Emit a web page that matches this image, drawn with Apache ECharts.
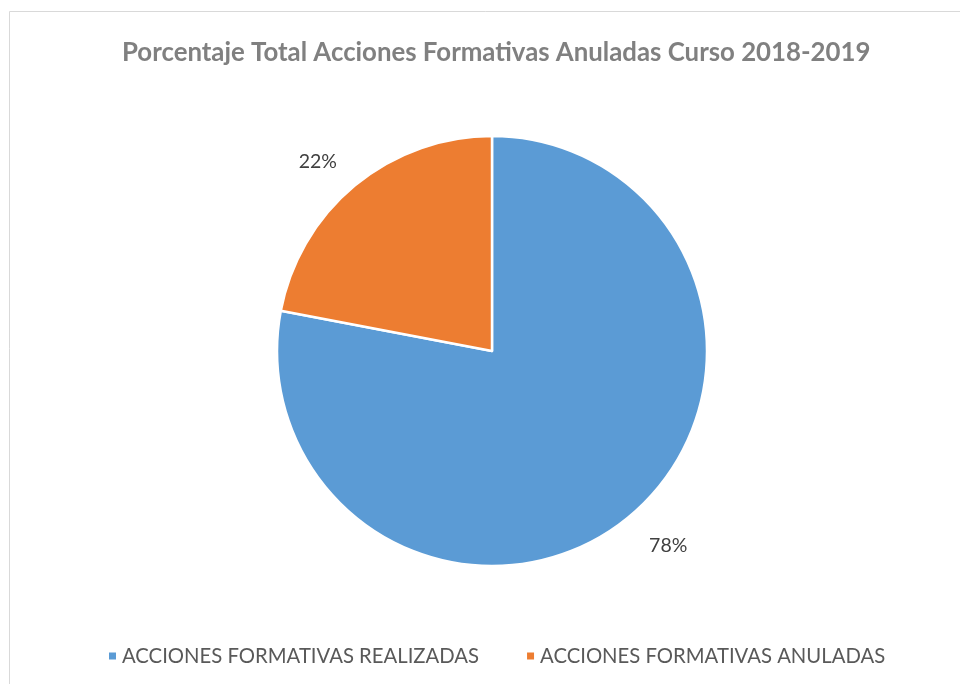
<!DOCTYPE html>
<html><head><meta charset="utf-8">
<script src="https://cdn.jsdelivr.net/npm/echarts@6/dist/echarts.min.js"></script>
<style>html,body{margin:0;padding:0;background:#fff}#c{width:960px;height:684px}</style>
</head><body><div id="c"></div>
<script>
const titleText = 'Porcentaje Total Acciones Formativas Anuladas Curso 2018-2019';
const categories = ['ACCIONES FORMATIVAS REALIZADAS', 'ACCIONES FORMATIVAS ANULADAS'];
const values = [78, 22];
const colors = ['#5B9BD5', '#ED7D31'];
const labelNudge = [[-6, 4], [8, 2]];

const chart = echarts.init(document.getElementById('c'));
chart.setOption({
  animation: false,
  graphic: [{type:'rect', shape:{x:9.5, y:11.5, width:1000, height:1000}, style:{fill:'none', stroke:'#D9D9D9', lineWidth:1}, silent:true}],
  title: {text: titleText, left: 117, top: 35,
    textStyle: {fontFamily: 'Lato', fontWeight: 'bold', fontSize: 25.8, color: '#808080'}},
  legend: {bottom: 13, left: 102, icon: 'rect', itemWidth: 9, itemHeight: 9, itemGap: 46,
    data: categories,
    textStyle: {fontFamily: 'Lato', fontSize: 20.3, color: '#595959'}},
  series: [{
    type: 'pie', center: [492, 351], radius: 215, startAngle: 90, clockwise: true,
    data: categories.map((n, i) => ({name: n, value: values[i], itemStyle: {color: colors[i]}})),
    itemStyle: {borderColor: '#fff', borderWidth: 2.5},
    label: {show: true, position: 'outside', formatter: p => Math.round(p.percent) + '%',
      fontFamily: 'Lato', fontSize: 19.5, color: '#404040'},
    labelLine: {show: false, length: 33, length2: 0},
    labelLayout: p => ({dx: labelNudge[p.dataIndex][0], dy: labelNudge[p.dataIndex][1]}),
    emphasis: {disabled: true}
  }]
});
</script></body></html>
